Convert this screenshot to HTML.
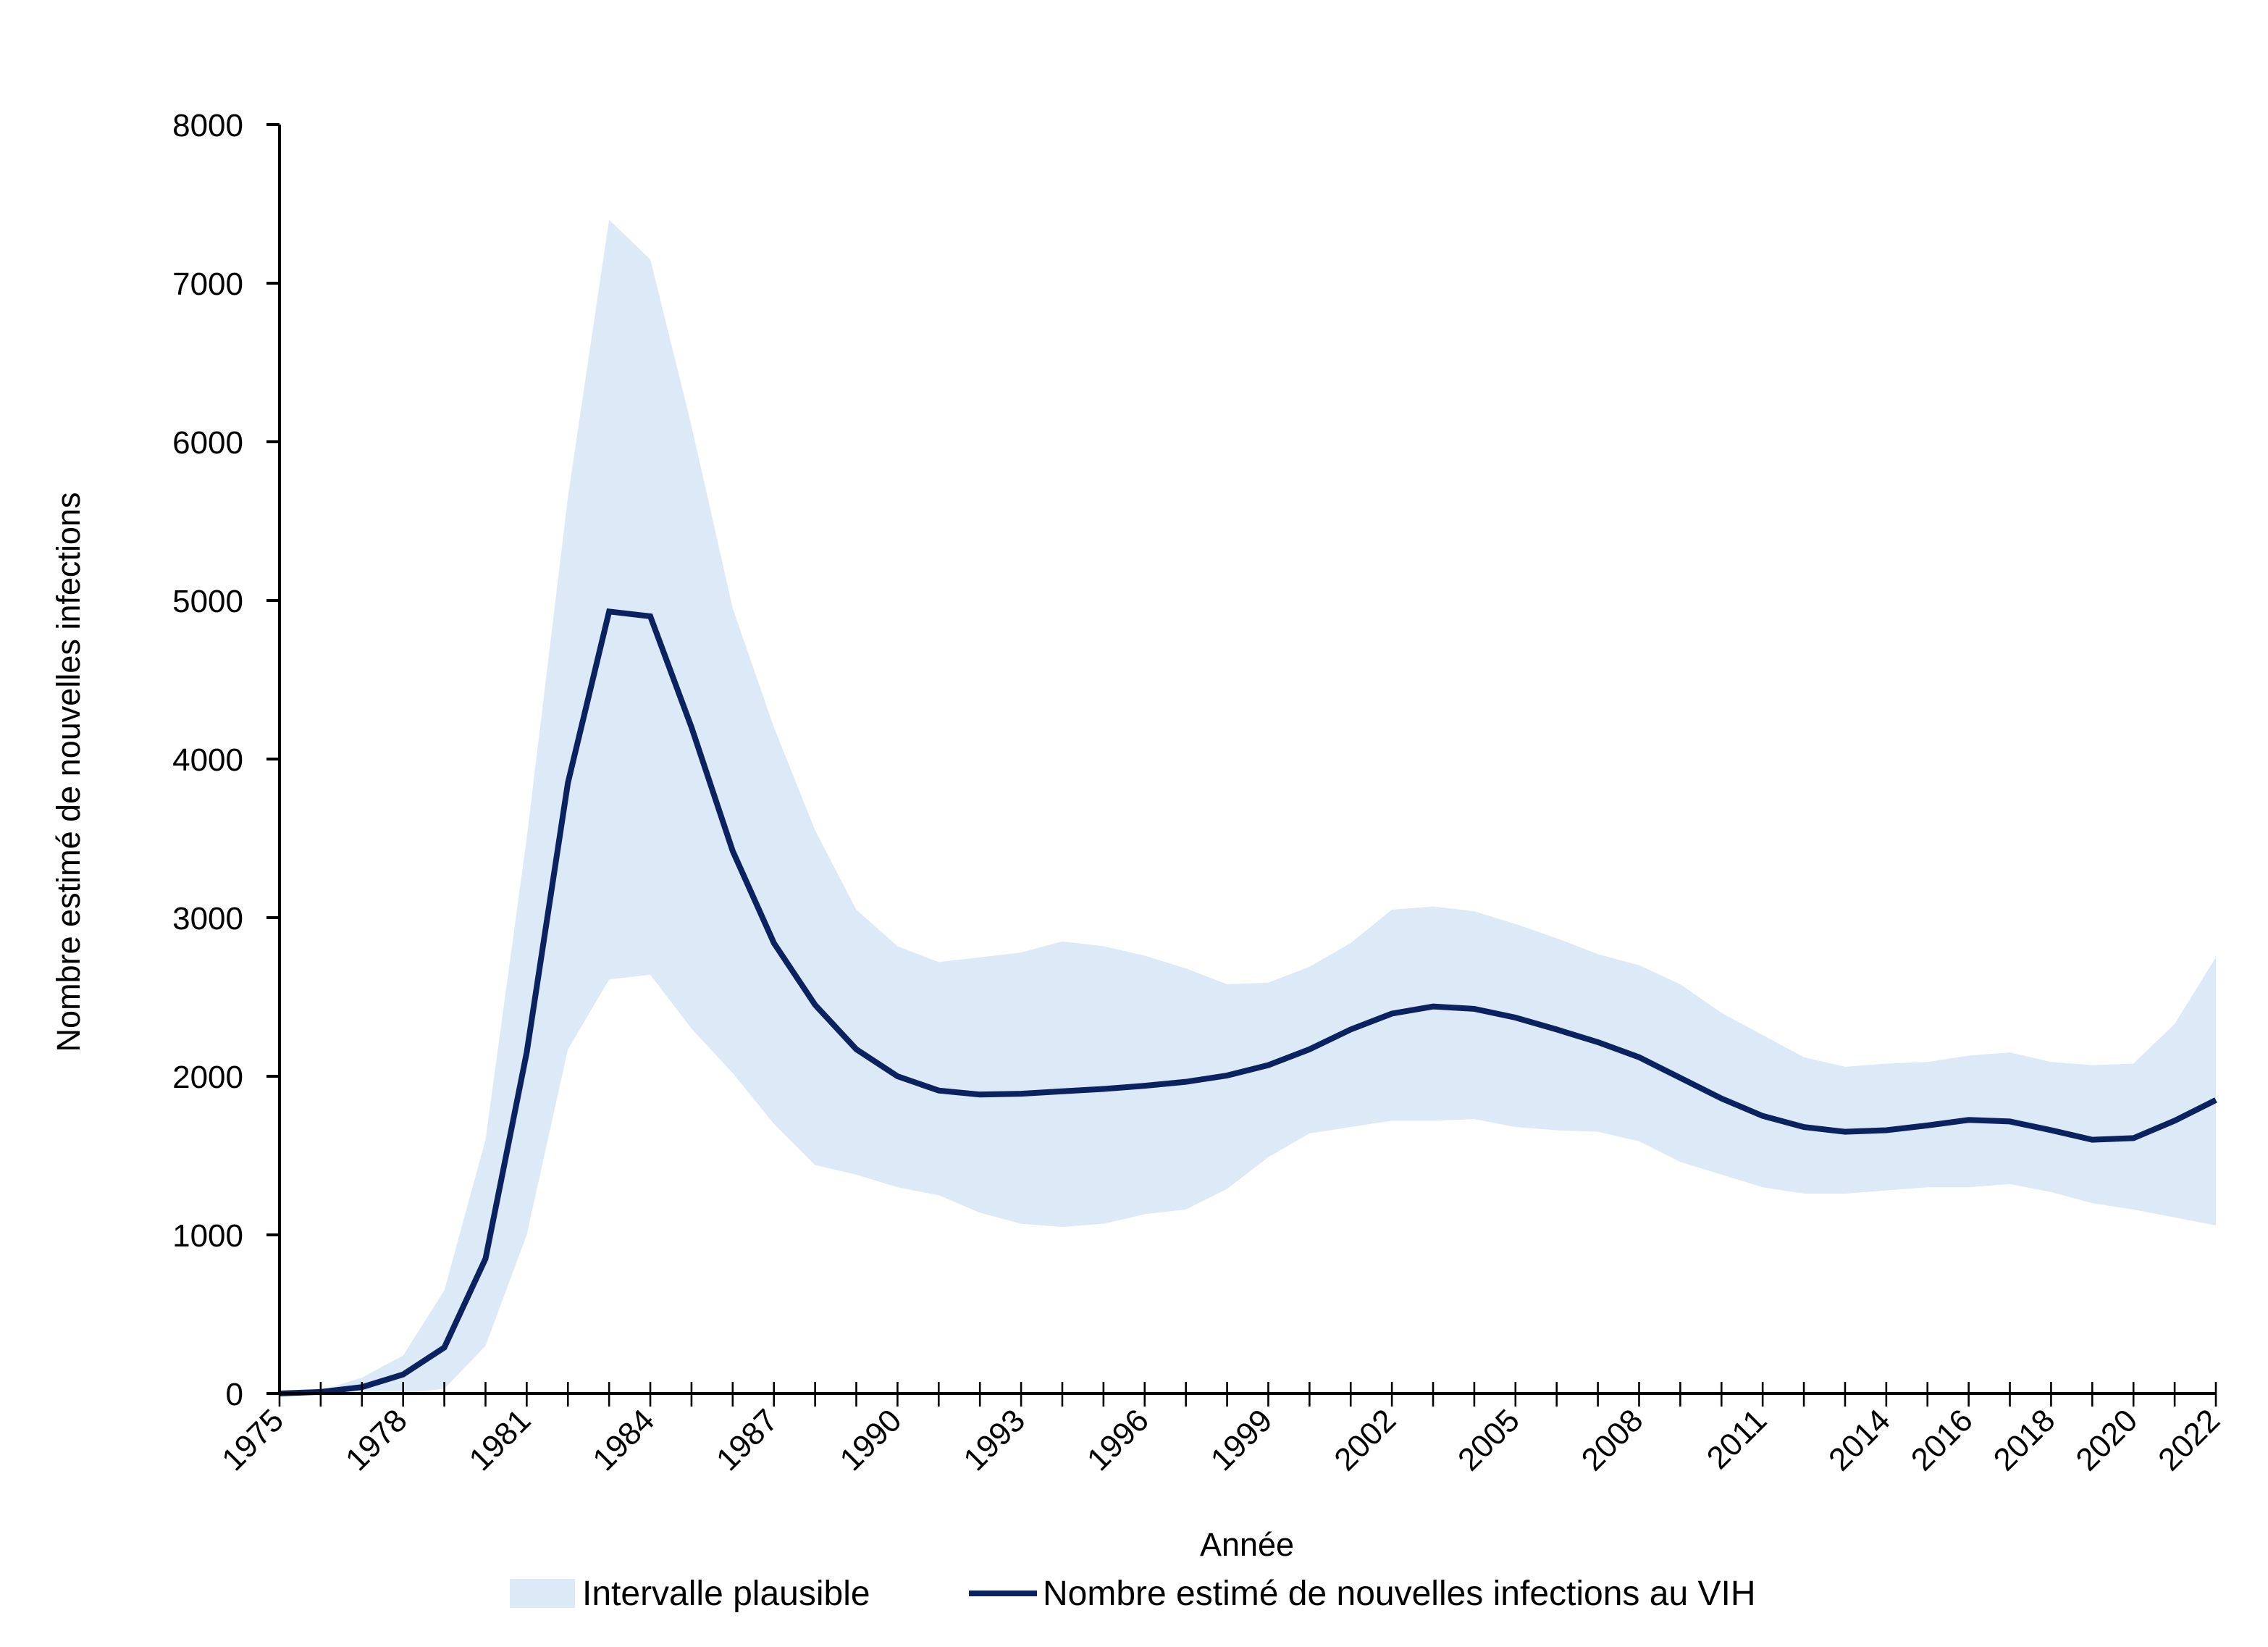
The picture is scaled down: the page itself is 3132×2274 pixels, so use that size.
<!DOCTYPE html>
<html><head><meta charset="utf-8">
<style>
html,body{margin:0;padding:0;background:#fff;}
svg{display:block;}
text{font-family:"Liberation Sans",sans-serif;fill:#000;}
</style></head>
<body>
<svg id="chart" width="3132" height="2274" viewBox="0 0 1566 1137" xmlns="http://www.w3.org/2000/svg">
<g id="band"></g>
<g id="line"></g>
<g id="axes"></g>
<text x="55" y="533" font-size="22.5" text-anchor="middle" transform="rotate(-90 55 533)">Nombre estimé de nouvelles infections</text>
<text x="861" y="1074" font-size="22.5" text-anchor="middle">Année</text>
<rect x="352" y="1090" width="45" height="20" fill="#dce9f6"/>
<text x="402" y="1108" font-size="24">Intervalle plausible</text>
<line x1="669" y1="1100" x2="716" y2="1100" stroke="#0b2260" stroke-width="4"/>
<text x="720" y="1108" font-size="24">Nombre estimé de nouvelles infections au VIH</text>
</svg>
<script>
const years=[];for(let y=1975;y<=2022;y++)years.push(y);
const estimate=[0,10,40,120,290,850,2150,3850,4930,4900,4200,3420,2840,2450,2170,2000,1910,1885,1890,1905,1920,1940,1965,2005,2070,2170,2295,2395,2440,2425,2370,2295,2215,2120,1990,1860,1750,1680,1650,1660,1690,1725,1715,1660,1600,1610,1720,1850];
const upper=[0,20,100,240,650,1600,3500,5650,7400,7150,6100,4950,4200,3550,3050,2820,2720,2750,2780,2850,2820,2760,2680,2580,2590,2690,2840,3050,3070,3040,2960,2870,2770,2700,2580,2400,2260,2120,2060,2080,2090,2130,2150,2090,2070,2080,2330,2750];
const lower=[0,0,0,0,30,300,1000,2170,2610,2640,2300,2020,1700,1440,1380,1300,1250,1140,1070,1050,1070,1130,1160,1290,1490,1640,1680,1720,1720,1730,1680,1660,1650,1590,1460,1380,1300,1260,1260,1280,1300,1300,1320,1270,1200,1160,1110,1060];
const xLabels=[1975,1978,1981,1984,1987,1990,1993,1996,1999,2002,2005,2008,2011,2014,2016,2018,2020,2022];
const yTicks=[0,1000,2000,3000,4000,5000,6000,7000,8000];

const NS="http://www.w3.org/2000/svg";
const X0=193,X1=1530,Y0=962,Y1=86;
const xs=y=>X0+(y-1975)*(X1-X0)/(2022-1975);
const ys=v=>Y0-v*(Y0-Y1)/8000;
function mk(tag,attrs,parent){const e=document.createElementNS(NS,tag);for(const k in attrs)e.setAttribute(k,attrs[k]);parent.appendChild(e);return e;}

const band=document.getElementById('band');
let pts=years.map((y,i)=>xs(y)+","+ys(upper[i]));
pts=pts.concat(years.map((y,i)=>xs(y)+","+ys(lower[i])).reverse());
const poly=mk('polygon',{points:pts.join(' '),fill:'#dce9f6'},band);



const lineG=document.getElementById('line');
const pl=mk('polyline',{points:years.map((y,i)=>xs(y)+","+ys(estimate[i])).join(' '),fill:'none',stroke:'#0b2260','stroke-width':4,'stroke-linejoin':'miter'},lineG);



const ax=document.getElementById('axes');
mk('line',{x1:X0,y1:Y0,x2:X1,y2:Y0,stroke:'#000','stroke-width':2},ax);
mk('line',{x1:X0,y1:Y0,x2:X0,y2:Y1,stroke:'#000','stroke-width':2},ax);
yTicks.forEach(v=>{
  mk('line',{x1:X0-9,y1:ys(v),x2:X0,y2:ys(v),stroke:'#000','stroke-width':2},ax);
  const t=mk('text',{x:168,y:ys(v)+8,'font-size':22,'text-anchor':'end'},ax);
  t.textContent=v;
  
  
});
years.forEach(y=>{
  mk('line',{x1:xs(y),y1:Y0-8,x2:xs(y),y2:Y0+9,stroke:'#000','stroke-width':1.3},ax);
});
xLabels.forEach(y=>{
  const x=xs(y)+4,yy=982;
  const t=mk('text',{x:x,y:yy,'font-size':22,'text-anchor':'end',transform:`rotate(-45 ${x} ${yy})`},ax);
  t.textContent=y;
  
  
});
</script>
</body></html>
